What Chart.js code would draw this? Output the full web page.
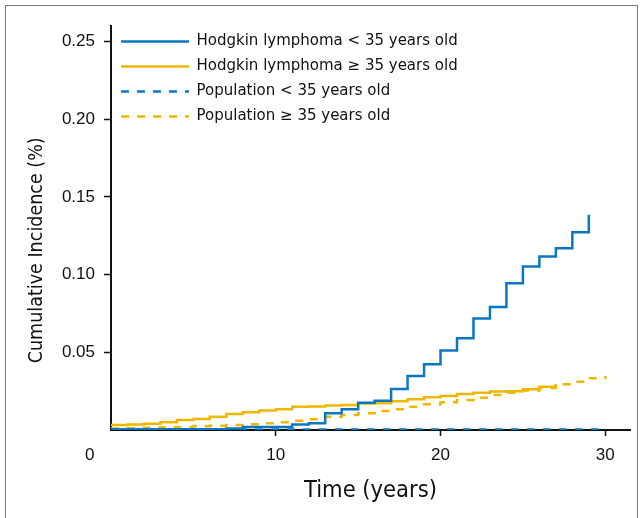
<!DOCTYPE html>
<html lang="en">
<head>
<meta charset="utf-8">
<title>Cumulative incidence</title>
<style>
body { margin: 0; background: #fff; }
#wrap { position: relative; width: 640px; height: 518px; }
#frame { position: absolute; left: 5px; top: 5px; width: 631px; height: 513px; border: 1px solid #777; border-bottom: none; pointer-events: none; }
</style>
</head>
<body>
<div id="wrap">
<canvas id="canvas" width="640" height="518"></canvas>
<div id="frame"></div>
</div>
<script src="https://cdn.jsdelivr.net/npm/chart.js"></script>
<script>

// time in years, one step per year
let YEARS = [0, 1, 2, 3, 4, 5, 6, 7, 8, 9, 10, 11, 12, 13, 14, 15, 16, 17, 18, 19, 20, 21, 22, 23, 24, 25, 26, 27, 28, 29, 30]

let LABELS = [
    "Hodgkin lymphoma < 35 years old",
    "Hodgkin lymphoma \u2265 35 years old",
    "Population < 35 years old",
    "Population \u2265 35 years old",
]

// cumulative incidence (%), value held from year i to year i+1
let hlYoung = [0.0005, 0.0005, 0.0005, 0.0005, 0.0005, 0.0005, 0.0005, 0.001, 0.002, 0.002,
    0.002, 0.0035, 0.0044, 0.0107, 0.0133, 0.0176, 0.0189, 0.0264, 0.0348, 0.0423,
    0.0511, 0.059, 0.0717, 0.0792, 0.0944, 0.1052, 0.1116, 0.117, 0.1273, 0.1385]
let hlOld = [0.0032, 0.0036, 0.004, 0.005, 0.0065, 0.007, 0.0086, 0.0103, 0.0114, 0.0125,
    0.0133, 0.015, 0.0152, 0.0158, 0.0161, 0.017, 0.0172, 0.0185, 0.0198, 0.0211,
    0.0219, 0.0232, 0.024, 0.0247, 0.0249, 0.0262, 0.0279, 0.0296]
let popYoung = [0.0002, 0.0002, 0.0002, 0.0002, 0.0002, 0.0002, 0.0003, 0.0003, 0.0003, 0.0003,
    0.0003, 0.0003, 0.0003, 0.0003, 0.0003, 0.0003, 0.0003, 0.0003, 0.0003, 0.0003,
    0.0003, 0.0003, 0.0003, 0.0003, 0.0003, 0.0003, 0.0003, 0.0003, 0.0003, 0.0003, 0.0003]
let popOld = [0.001, 0.0012, 0.0015, 0.0018, 0.002, 0.0024, 0.0028, 0.0032, 0.0037, 0.0043,
    0.005, 0.006, 0.0069, 0.0086, 0.0097, 0.0107, 0.0122, 0.0133, 0.015, 0.0165,
    0.0178, 0.0193, 0.0208, 0.0225, 0.024, 0.0255, 0.027, 0.0295, 0.031, 0.0333, 0.0348]

let X_TICKS = [0, 10, 20, 30]
let Y_TICKS = [0.05, 0.10, 0.15, 0.20, 0.25]

let BLUE = "#0b77c1"
let GOLD = "#efb700"
let CONDENSED = "'DejaVu Sans Condensed', 'Liberation Sans Narrow', sans-serif"

function points(values) {
    return values.map((v, i) => ({ x: YEARS[i], y: v }))
}

function series(label, values, color, dashed) {
    return {
        label: label,
        data: points(values),
        borderColor: color,
        backgroundColor: color,
        borderWidth: 2.5,
        borderDash: dashed ? [8, 8] : [],
        stepped: "before", // flat, then jump at the next year
        pointRadius: 0,
        fill: false,
    }
}

// legend with point style "line" drops the dash, so put it back
function legendLabels(chart) {
    let items = Chart.defaults.plugins.legend.labels.generateLabels(chart)
    items.forEach(item => {
        let ds = chart.data.datasets[item.datasetIndex]
        item.lineDash = ds.borderDash
        item.lineWidth = ds.borderWidth
        item.strokeStyle = ds.borderColor
    })
    return items
}

let ctx = document.getElementById("canvas")

let chart = new Chart(ctx, {
    type: "line",
    data: {
        datasets: [
            series(LABELS[0], hlYoung, BLUE, false),
            series(LABELS[1], hlOld, GOLD, false),
            series(LABELS[2], popYoung, BLUE, true),
            series(LABELS[3], popOld, GOLD, true),
        ]
    },
    options: {
        responsive: false,
        animation: false,
        layout: { padding: { top: 26, right: 10, left: 0, bottom: 0 } },
        plugins: {
            tooltip: { enabled: false },
            legend: {
                position: "chartArea",
                align: "start",
                // empty title only used as a spacer above the items
                title: { display: true, text: "", font: { size: 15 }, padding: { top: 6, bottom: 0 } },
                labels: {
                    usePointStyle: true,
                    pointStyle: "line",
                    pointStyleWidth: 68,
                    padding: 10,
                    color: "#111",
                    font: { family: "'DejaVu Sans', sans-serif", size: 15 },
                    generateLabels: legendLabels,
                },
            },
        },
        scales: {
            x: {
                type: "linear",
                min: 0,
                max: 31.5,
                afterFit: s => { s.height = 88 },
                afterBuildTicks: s => { s.ticks = X_TICKS.map(v => ({ value: v })) },
                ticks: {
                    padding: 9,
                    color: "#111",
                    font: { family: "'Liberation Sans', Arial, sans-serif", size: 17 },
                    // the origin label sits left of the y axis in the original
                    callback: v => v == 0 ? "0         " : v,
                },
                grid: {
                    drawOnChartArea: false,
                    tickLength: 6,
                    tickWidth: 1.5,
                    tickColor: c => c.tick && c.tick.value == 0 ? "rgba(0,0,0,0)" : "#111",
                },
                border: { color: "#111", width: 2 },
                title: {
                    display: true,
                    text: "Time (years)",
                    color: "#111",
                    font: { family: CONDENSED, size: 23.5 },
                    padding: { top: 0, bottom: 13 },
                },
            },
            y: {
                min: 0,
                max: 0.26,
                afterFit: s => { s.width = 111 },
                afterBuildTicks: s => { s.ticks = Y_TICKS.map(v => ({ value: v })) },
                ticks: {
                    padding: 9,
                    color: "#111",
                    font: { family: "'Liberation Sans', Arial, sans-serif", size: 17 },
                    callback: v => v.toFixed(2),
                },
                grid: {
                    drawOnChartArea: false,
                    tickLength: 7,
                    tickWidth: 1.5,
                    tickColor: "#111",
                },
                border: { color: "#111", width: 2 },
                title: {
                    display: true,
                    // trailing spaces push the title down the axis like the original
                    text: "Cumulative Incidence (%)        ",
                    color: "#111",
                    font: { family: CONDENSED, size: 19.5 },
                    padding: { top: 25, bottom: 0 },
                },
            },
        },
    },
})

</script>
</body>
</html>
